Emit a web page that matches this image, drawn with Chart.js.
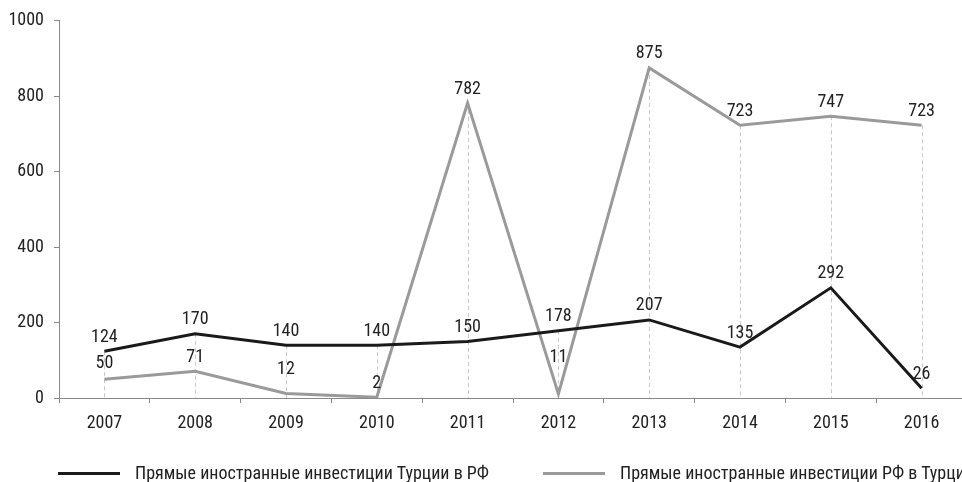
<!DOCTYPE html>
<html>
<head>
<meta charset="utf-8">
<script src="https://cdn.jsdelivr.net/npm/chart.js@4/dist/chart.umd.min.js"></script>
<style>
body{margin:0;background:#fff;}
#wrap{position:relative;width:962px;height:482px;overflow:hidden;}
#chart{position:absolute;left:0;top:0;}
.leg{position:absolute;top:463px;font-family:Roboto,sans-serif;font-stretch:condensed;font-size:18px;color:#222;white-space:nowrap;line-height:20px;}
.leg span.ln{position:absolute;top:9px;height:3px;width:62px;}
</style>
</head>
<body>
<div id="wrap">
<canvas id="chart" width="970" height="482"></canvas>
<div class="leg" style="left:58px;"><span class="ln" style="left:0;background:#1a1a1a;"></span><span style="margin-left:77px;">Прямые иностранные инвестиции Турции в РФ</span></div>
<div class="leg" style="left:543px;"><span class="ln" style="left:0;background:#999;"></span><span style="margin-left:77px;">Прямые иностранные инвестиции РФ в Турцию</span></div>
</div>
<script>
var anios=["2007","2008","2009","2010","2011","2012","2013","2014","2015","2016"];
var turciaRF=[124,170,140,140,150,178,207,135,292,26];
var rfTurcia=[50,71,12,2,782,11,875,723,747,723];
// desplazamiento vertical de cada etiqueta (px)
var offNegro=[14,14,14,14,14,14,14,14,14,14];
var offGris=[16,14,24,14,14,36,14,14,14,14];
var fuente='Roboto,sans-serif';

var lineasGuia={
	id:'lineasGuia',
	beforeDatasetsDraw:function(chart){
		var ctx=chart.ctx;
		var y=chart.scales.y;
		var m0=chart.getDatasetMeta(0).data;
		var m1=chart.getDatasetMeta(1).data;
		ctx.save();
		ctx.strokeStyle='#c8c8c8';
		ctx.lineWidth=1;
		ctx.setLineDash([4,3]);
		for(var i=0;i<m0.length;i++){
			var top=Math.min(m0[i].y,m1[i].y);
			ctx.beginPath();
			ctx.moveTo(Math.round(m0[i].x)+0.5,top);
			ctx.lineTo(Math.round(m0[i].x)+0.5,y.bottom);
			ctx.stroke();
		}
		ctx.restore();
	}
};

var etiquetas={
	id:'etiquetas',
	afterDatasetsDraw:function(chart){
		var ctx=chart.ctx;
		ctx.save();
		ctx.font='condensed 18px '+fuente;
		ctx.fillStyle='#222';
		ctx.textAlign='center';
		ctx.textBaseline='middle';
		var offs=[offNegro,offGris];
		for(var d=0;d<2;d++){
			var meta=chart.getDatasetMeta(d).data;
			var vals=chart.data.datasets[d].data;
			for(var i=0;i<meta.length;i++){
				ctx.fillText(vals[i],meta[i].x,meta[i].y-offs[d][i]);
			}
		}
		ctx.restore();
	}
};

var datos={
	type:'line',
	data:{
		labels:anios,
		datasets:[{
			label:'Прямые иностранные инвестиции Турции в РФ',
			data:turciaRF,
			borderColor:'#1a1a1a',
			borderWidth:3,
			pointRadius:0,
			tension:0
		},{
			label:'Прямые иностранные инвестиции РФ в Турцию',
			data:rfTurcia,
			borderColor:'#9a9a9a',
			borderWidth:3,
			pointRadius:0,
			tension:0
		}]
	},
	options:{
		responsive:false,
		animation:false,
		layout:{padding:{top:19,right:3,left:0,bottom:0}},
		plugins:{legend:{display:false},tooltip:{enabled:false}},
		scales:{
			x:{
				offset:true,
				grid:{offset:true,drawOnChartArea:false,drawTicks:true,tickLength:5,color:'#888'},
				border:{color:'#888',width:1},
				ticks:{color:'#222',font:{family:fuente,size:18,weight:'condensed'},padding:10},
				afterFit:function(s){s.height=84;}
			},
			y:{
				min:0,max:1000,
				ticks:{stepSize:200,color:'#222',font:{family:fuente,size:18,weight:'condensed'},padding:10,
					callback:function(v){return ''+v;}},
				grid:{drawOnChartArea:false,drawTicks:true,tickLength:5,color:'#888'},
				border:{color:'#888',width:1},
				afterFit:function(s){s.width=59;}
			}
		}
	},
	plugins:[lineasGuia,etiquetas]
};

var canvas=document.getElementById('chart').getContext('2d');
window.grafico=new Chart(canvas,datos);
</script>
</body>
</html>
